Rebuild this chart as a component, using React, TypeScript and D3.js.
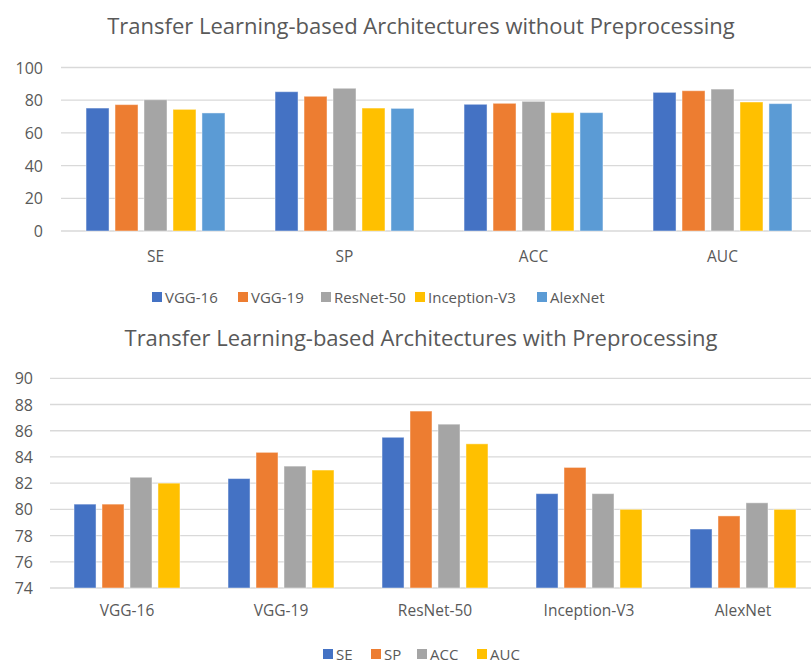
import React, { useEffect, useRef } from 'react';
import * as d3 from 'd3';

// chart 1: metrics on x, architectures as series
const metrics = ['SE', 'SP', 'ACC', 'AUC'];
const archs = ['VGG-16', 'VGG-19', 'ResNet-50', 'Inception-V3', 'AlexNet'];
const vgg16NoPre = [75.2, 85.2, 77.5, 84.8];
const vgg19NoPre = [77.3, 82.4, 78.1, 85.8];
const resnetNoPre = [80.3, 87.3, 79.3, 86.8];
const inceptionNoPre = [74.4, 75.2, 72.4, 78.9];
const alexnetNoPre = [72.2, 75.0, 72.4, 77.9];
const ticksTop = [0, 20, 40, 60, 80, 100];

// chart 2: architectures on x, metrics as series
const seWithPre = [80.4, 82.35, 85.5, 81.2, 78.5];
const spWithPre = [80.4, 84.35, 87.5, 83.2, 79.5];
const accWithPre = [82.45, 83.3, 86.5, 81.2, 80.5];
const aucWithPre = [82.0, 83.0, 85.0, 80.0, 80.0];
const ticksBottom = [74, 76, 78, 80, 82, 84, 86, 88, 90];

const colors = ['#4472C4', '#ED7D31', '#A5A5A5', '#FFC000', '#5B9BD5'];
const font = 'Open Sans, sans-serif';
const textColor = '#595959';

function drawChart(svg, opts) {
  const { title, titleY, cats, series, values, ticks, top, bottom, left, right,
    inner, outer, barPad, tickX, catY, legendY, legendX } = opts;

  const g = svg.append('g');

  g.append('text')
    .attr('x', 421).attr('y', titleY)
    .attr('text-anchor', 'middle')
    .attr('font-family', font).attr('font-size', 22)
    .attr('fill', textColor)
    .text(title);

  const y = d3.scaleLinear().domain([ticks[0], ticks[ticks.length - 1]]).range([bottom, top]);
  const x0 = d3.scaleBand().domain(cats).range([left, right]).paddingInner(inner).paddingOuter(outer);
  const x1 = d3.scaleBand().domain(series).range([0, x0.bandwidth()]).paddingInner(barPad);

  g.selectAll('.grid').data(ticks).enter().append('line')
    .attr('x1', left).attr('x2', 811)
    .attr('y1', d => y(d)).attr('y2', d => y(d))
    .attr('stroke', '#d9d9d9').attr('stroke-width', 1.3);

  g.selectAll('.tick').data(ticks).enter().append('text')
    .attr('x', tickX).attr('y', d => y(d) + 6)
    .attr('text-anchor', 'end')
    .attr('font-family', font).attr('font-size', 16)
    .attr('fill', textColor)
    .text(d => d);

  cats.forEach((c, ci) => {
    const grp = g.append('g').attr('transform', `translate(${x0(c)},0)`);
    grp.selectAll('rect').data(series).enter().append('rect')
      .attr('x', s => x1(s))
      .attr('width', x1.bandwidth())
      .attr('y', (s, si) => y(values[si][ci]))
      .attr('height', (s, si) => bottom - y(values[si][ci]))
      .attr('fill', (s, si) => colors[si])
      .attr('stroke', 'rgba(255,255,255,0.45)').attr('stroke-width', 1);
    g.append('text')
      .attr('x', x0(c) + x0.bandwidth() / 2).attr('y', catY)
      .attr('text-anchor', 'middle')
      .attr('font-family', font).attr('font-size', 15.5)
      .attr('fill', textColor)
      .text(c);
  });

  series.forEach((s, si) => {
    const lx = legendX[si];
    g.append('rect')
      .attr('x', lx).attr('y', legendY - 11)
      .attr('width', 10).attr('height', 10)
      .attr('fill', colors[si]);
    g.append('text')
      .attr('x', lx + 13).attr('y', legendY)
      .attr('font-family', font).attr('font-size', 15)
      .attr('fill', textColor)
      .text(s);
  });
}

export default function App() {
  const ref = useRef<SVGSVGElement>(null);

  useEffect(() => {
    const svg = d3.select(ref.current);
    svg.selectAll('*').remove();

    drawChart(svg, {
      title: 'Transfer Learning-based Architectures without Preprocessing',
      titleY: 34,
      cats: metrics,
      series: archs,
      values: [vgg16NoPre, vgg19NoPre, resnetNoPre, inceptionNoPre, alexnetNoPre],
      ticks: ticksTop,
      top: 67.5, bottom: 231, left: 61, right: 817,
      inner: 0.265, outer: 0.1325, barPad: 0.207,
      tickX: 43, catY: 262, legendY: 303,
      legendX: [152, 238, 321, 415, 537],
    });

    drawChart(svg, {
      title: 'Transfer Learning-based Architectures with Preprocessing',
      titleY: 346,
      cats: archs,
      series: metrics,
      values: [seWithPre, spWithPre, accWithPre, aucWithPre],
      ticks: ticksBottom,
      top: 378.3, bottom: 588, left: 50, right: 820,
      inner: 0.312, outer: 0.156, barPad: 0.214,
      tickX: 33, catY: 616, legendY: 660,
      legendX: [323, 371, 417, 477],
    });
  }, []);

  return (
    <svg ref={ref} width={811} height={664}
      style={{ position: 'absolute', left: 0, top: 0, background: '#fff' }} />
  );
}
